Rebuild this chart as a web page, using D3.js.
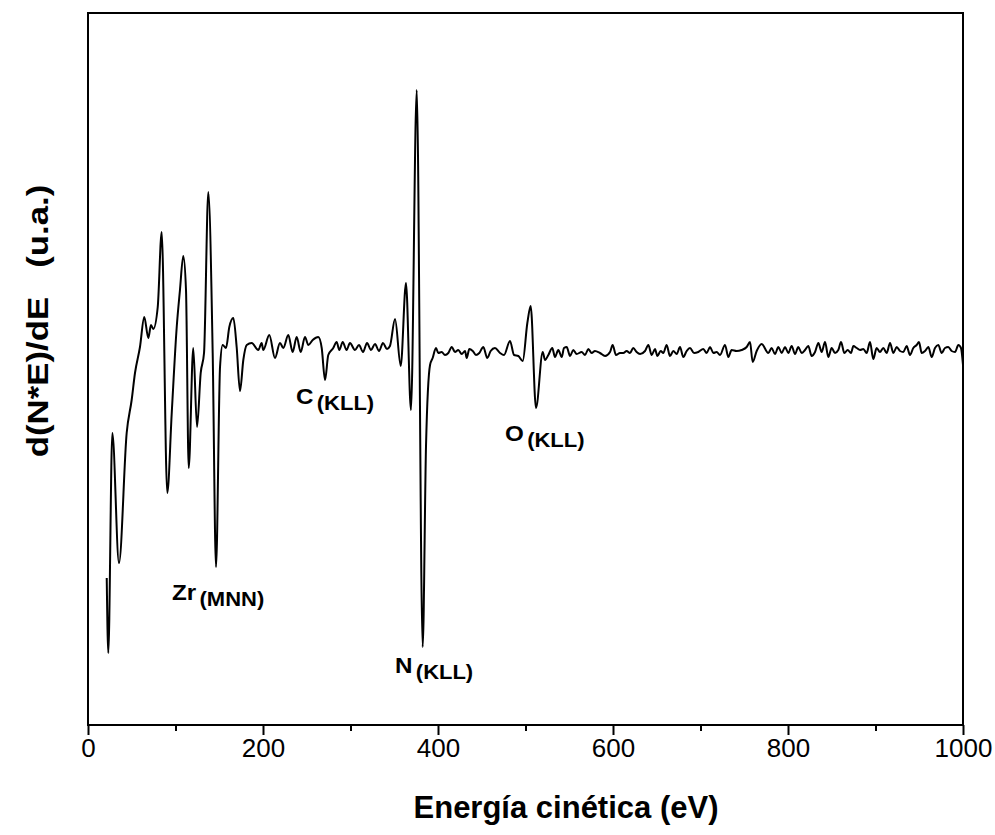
<!DOCTYPE html>
<html>
<head>
<meta charset="utf-8">
<script src="https://cdn.jsdelivr.net/npm/d3@7"></script>
<style>
  body { margin: 0; background: #fff; }
  text { font-family: "Liberation Sans", Arial, sans-serif; }
</style>
</head>
<body>
<div id="chart"></div>
<script>
// AES spectrum (energy in eV, intensity in u.a.)
var energy = [
  21.4,23.2,27.8,35.4,44.2,49.9,53.7,59.4,64.3,68.9,72.0,74.6,79.7,84.2,90.6,95.7,101.4,105.1,108.9,112.0,
  115.1,120.3,124.6,128.8,132.6,137.5,142.5,146.3,150.9,153.9,157.7,161.5,166.1,169.9,173.7,177.5,181.4,
  187.1,194.6,198.5,200.3,207.2,213.7,219.4,223.2,228.9,233.9,238.5,243.1,248.0,251.8,256.8,263.2,267.1,270.9,274.6,280.3,
  284.2,287.2,291.1,295.5,299.4,305.1,
  309.7,314.3,318.9,323.4,328.0,332.6,337.1,341.7,345.1,
  350.9,357.4,363.4,369.1,375.7,382.5,386.3,390.9,393.9,397.7,
  400.3,404.2,408.0,411.8,415.7,419.4,423.2,427.1,430.9,432.8,435.8,439.7,443.4,447.2,451.8,456.3,460.2,465.1,470.9,475.4,
  482.3,486.9,491.8,496.8,502.1,505.9,512.0,519.7,522.3,526.1,530.6,533.7,537.5,541.4,544.0,547.1,550.9,554.6,558.5,
  564.2,568.0,571.8,575.6,579.4,585.1,590.9,596.6,599.6,603.4,608.0,611.8,615.6,619.4,623.2,627.0,630.9,636.6,640.4,644.2,
  648.0,650.7,654.5,657.5,661.3,665.1,669.0,672.8,676.6,680.3,684.2,688.0,692.6,697.5,703.2,707.0,710.9,714.7,718.5,722.3,
  728.0,731.8,735.6,741.3,747.0,752.8,756.6,759.6,764.2,769.9,
  777.5,781.3,785.1,789.0,792.8,796.6,800.4,804.2,808.0,811.8,815.6,819.4,823.2,827.0,830.9,834.7,838.5,842.3,846.1,849.9,
  853.7,857.5,860.6,864.4,868.2,872.0,874.7,878.5,882.3,886.1,889.9,893.7,897.5,901.3,905.1,908.9,912.8,916.6,920.4,924.2,
  928.0,931.8,935.6,939.4,943.2,947.0,949.7,952.8,956.6,960.4,964.2,968.0,971.8,975.6,979.4,983.2,987.0,990.9,994.7,997.7,
  1000
];
var intensity = [
  -2.28,-3.03,-0.83,-2.13,-0.83,-0.50,-0.23,0.03,0.33,0.12,0.25,0.21,0.43,1.18,-1.43,-0.63,0.23,0.60,0.94,0.60,
  -1.18,0.02,-0.77,-0.23,-0.03,1.58,-0.03,-2.17,-0.17,0.05,0.02,0.23,0.32,0.03,-0.41,-0.10,0.05,
  0.07,0,0.07,0,0.15,-0.08,0.07,0.02,0.15,-0.02,0.13,-0.02,0.13,0.05,0.10,0.13,0.02,-0.30,-0.05,0.02,
  0.08,0,0.08,0,0.07,0,
  0.05,-0.02,0.07,0,0.06,-0.01,0.07,0.01,0.04,
  0.31,-0.16,0.67,-0.60,2.60,-2.97,-0.96,-0.15,-0.08,0.02,
  -0.03,-0.02,-0.05,-0.03,0.03,-0.02,0,-0.04,-0.01,-0.08,0.01,-0.01,-0.05,-0.03,0.03,-0.08,-0.01,0.02,-0.03,-0.05,
  0.09,-0.05,-0.06,-0.11,0.27,0.44,-0.58,-0.02,-0.10,-0.05,0.02,-0.07,0,-0.07,0.02,0.03,-0.06,0,-0.04,
  -0.02,-0.05,0.01,-0.03,-0.01,-0.03,-0.06,-0.02,0.05,-0.05,-0.03,-0.03,-0.01,-0.03,0.02,-0.02,-0.04,-0.01,0.05,-0.05,
  0.01,-0.06,-0.01,-0.03,0.05,-0.06,-0.01,-0.04,0.03,-0.07,-0.01,0.02,-0.03,-0.02,0.01,-0.03,0.03,-0.03,-0.02,-0.05,
  0.05,-0.07,0,-0.01,0,0.03,0.08,-0.12,-0.01,0.06,
  -0.03,0.02,-0.04,0.03,-0.03,0.03,-0.03,0.04,-0.04,0.03,-0.03,0,0.04,-0.06,-0.02,0.07,-0.02,0.08,-0.07,0.02,
  -0.03,0,0.08,-0.03,0,-0.03,0.04,0.02,0,0.01,-0.03,0.08,-0.09,0.02,-0.02,0.02,-0.03,0.07,-0.03,0.03,
  -0.01,-0.02,0.04,-0.05,0.02,0.05,0.08,-0.03,-0.01,0.03,-0.07,0.02,0.05,-0.03,0.02,0.03,-0.01,-0.02,0.05,0.02,
  -0.15
];

var majorTicks = [0, 200, 400, 600, 800, 1000];
var minorTicks = [100, 300, 500, 700, 900];

// peak labels: element, transition, where the label sits (eV, u.a.)
var peakElement = ["Zr", "C", "N", "O"];
var peakTransition = ["(MNN)", "(KLL)", "(KLL)", "(KLL)"];
var labelEnergy = [96, 237.7, 350.9, 476.6];
var labelIntensity = [-2.50, -0.54, -3.23, -0.91];

var w = 995, h = 835;
var mLeft = 88, mRight = 963, mTop = 13, mBottom = 725;

var svg = d3.select("#chart").append("svg")
  .attr("width", w)
  .attr("height", h);

var x = d3.scaleLinear().domain([0, 1000]).range([mLeft, mRight]);
var y = d3.scaleLinear().domain([-3.75, 3.37]).range([mBottom, mTop]);

svg.append("clipPath").attr("id", "clip")
  .append("rect")
  .attr("x", mLeft).attr("y", mTop)
  .attr("width", mRight - mLeft).attr("height", mBottom - mTop);

var points = energy.map(function(e, i) { return [e, intensity[i]]; });

var line = d3.line()
  .x(function(d) { return x(d[0]); })
  .y(function(d) { return y(d[1]); })
  .curve(d3.curveMonotoneX);

svg.append("path")
  .datum(points)
  .attr("clip-path", "url(#clip)")
  .attr("d", line)
  .attr("fill", "none")
  .attr("stroke", "#000")
  .attr("stroke-width", 2)
  .attr("stroke-linejoin", "round");

// frame
svg.append("rect")
  .attr("x", mLeft).attr("y", mTop)
  .attr("width", mRight - mLeft).attr("height", mBottom - mTop)
  .attr("fill", "none")
  .attr("stroke", "#000")
  .attr("stroke-width", 2);

var xAxis = d3.axisBottom(x)
  .tickValues(majorTicks)
  .tickSize(10)
  .tickPadding(4)
  .tickFormat(d3.format("d"));

var gx = svg.append("g")
  .attr("transform", "translate(0," + mBottom + ")")
  .call(xAxis);
gx.select(".domain").remove();
gx.selectAll("line").attr("stroke-width", 2);
gx.selectAll("text")
  .attr("font-size", 26)
  .attr("fill", "#000")
  .style("font-family", "'Liberation Sans', Arial, sans-serif");

var gm = svg.append("g")
  .attr("transform", "translate(0," + mBottom + ")")
  .call(d3.axisBottom(x).tickValues(minorTicks).tickSize(6).tickFormat(""));
gm.select(".domain").remove();
gm.selectAll("line").attr("stroke-width", 2);

// axis titles
svg.append("text")
  .attr("x", 566)
  .attr("y", 818)
  .attr("text-anchor", "middle")
  .attr("font-size", 31)
  .attr("font-weight", "bold")
  .text("Energía cinética (eV)");

svg.append("text")
  .attr("transform", "translate(48,321) rotate(-90) scale(1.2,1)")
  .attr("text-anchor", "middle")
  .attr("font-size", 29)
  .attr("font-weight", "bold")
  .style("white-space", "pre")
  .text("d(N*E)/dE   (u.a.)");

// peak labels, slightly wider than tall as in the original figure
var labels = svg.selectAll(".peak")
  .data(peakElement)
  .enter()
  .append("text")
  .attr("class", "peak")
  .attr("transform", function(d, i) {
    return "translate(" + x(labelEnergy[i]) + "," + y(labelIntensity[i]) + ") scale(1.1,1)";
  })
  .attr("font-size", 22)
  .attr("font-weight", "bold");

labels.append("tspan").text(function(d) { return d; });
labels.append("tspan")
  .attr("dx", 3)
  .attr("dy", 6)
  .attr("font-size", 20)
  .text(function(d, i) { return peakTransition[i]; });
</script>
</body>
</html>
